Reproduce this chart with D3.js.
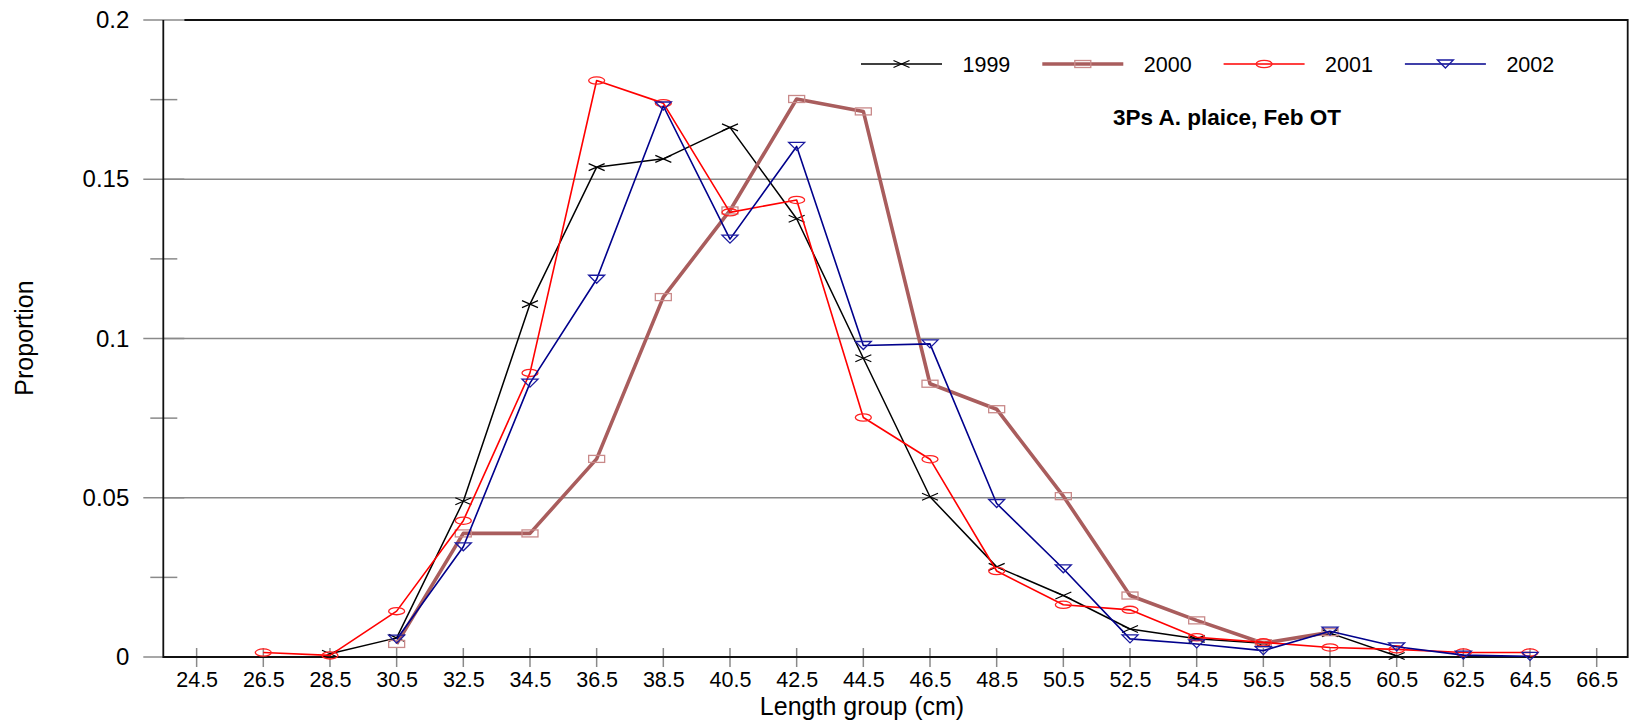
<!DOCTYPE html>
<html>
<head>
<meta charset="utf-8">
<script src="https://cdn.jsdelivr.net/npm/d3@7"></script>
<style>
  html, body { margin: 0; padding: 0; background: #fff; }
  svg { display: block; font-family: Arial, "Liberation Sans", sans-serif; }
</style>
</head>
<body>
<svg id="chart" width="1631" height="723"></svg>
<script>
// ---- data ----
const lengthGroups = [24.5, 26.5, 28.5, 30.5, 32.5, 34.5, 36.5, 38.5, 40.5, 42.5, 44.5,
                      46.5, 48.5, 50.5, 52.5, 54.5, 56.5, 58.5, 60.5, 62.5, 64.5, 66.5];
const yTicks = [0, 0.05, 0.1, 0.15, 0.2];
const yTickLabels = ["0", "0.05", "0.1", "0.15", "0.2"];
const yMinorTicks = [0.025, 0.075, 0.125, 0.175];

const len1999 = [28.5, 30.5, 32.5, 34.5, 36.5, 38.5, 40.5, 42.5, 44.5, 46.5, 48.5, 50.5, 52.5, 54.5, 56.5, 58.5, 60.5];
const val1999 = [0.001, 0.006, 0.0489, 0.1108, 0.1538, 0.1564, 0.1663, 0.1376, 0.0938, 0.0503, 0.0283, 0.0193, 0.0088, 0.0057, 0.0043, 0.0075, 0.0003];

const len2000 = [30.5, 32.5, 34.5, 36.5, 38.5, 40.5, 42.5, 44.5, 46.5, 48.5, 50.5, 52.5, 54.5, 56.5, 58.5];
const val2000 = [0.0041, 0.0388, 0.0388, 0.0622, 0.1130, 0.1402, 0.1752, 0.1713, 0.0858, 0.0778, 0.0505, 0.0193, 0.0115, 0.0043, 0.0078];

const len2001 = [26.5, 28.5, 30.5, 32.5, 34.5, 36.5, 38.5, 40.5, 42.5, 44.5, 46.5, 48.5, 50.5, 52.5, 54.5, 56.5, 58.5, 60.5, 62.5, 64.5];
const val2001 = [0.0014, 0.0005, 0.0144, 0.0428, 0.0892, 0.181, 0.1739, 0.1396, 0.1435, 0.0752, 0.0621, 0.027, 0.0164, 0.0148, 0.0062, 0.0046, 0.003, 0.0024, 0.0014, 0.0014];

const len2002 = [30.5, 32.5, 34.5, 36.5, 38.5, 40.5, 42.5, 44.5, 46.5, 48.5, 50.5, 52.5, 54.5, 56.5, 58.5, 60.5, 62.5, 64.5];
const val2002 = [0.0056, 0.0346, 0.086, 0.1186, 0.173, 0.1312, 0.1603, 0.0978, 0.0983, 0.0482, 0.0277, 0.0057, 0.0041, 0.002, 0.0081, 0.0032, 0.0006, 0.0002];

const seriesNames = ["1999", "2000", "2001", "2002"];
const chartTitle = "3Ps A. plaice, Feb OT";
const xTitle = "Length group (cm)";
const yTitle = "Proportion";

// ---- layout ----
const plotLeft = 163.3, plotRight = 1627.7, plotTop = 20, plotBottom = 657;
const svg = d3.select("#chart");

const x = d3.scaleLinear().domain([23.5, 67.43]).range([plotLeft, plotRight]);
const y = d3.scaleLinear().domain([0, 0.2]).range([plotBottom, plotTop]);

const gridColor = "#8a8a8a";

// gridlines
svg.append("g").selectAll("line").data(yTicks.filter(d => d > 0 && d < 0.2)).join("line")
  .attr("x1", plotLeft).attr("x2", plotRight)
  .attr("y1", d => y(d)).attr("y2", d => y(d))
  .attr("stroke", gridColor).attr("stroke-width", 1.5);

// y axis with major ticks crossing
const yAxis = d3.axisLeft(y).tickValues(yTicks).tickFormat((d, i) => yTickLabels[i]).tickSize(0).tickPadding(34);
const gy = svg.append("g").attr("transform", `translate(${plotLeft},0)`).call(yAxis);
gy.select(".domain").remove();
gy.selectAll("text").attr("font-size", 24).attr("fill", "#000").attr("font-family", "Arial, 'Liberation Sans', sans-serif");
svg.append("g").selectAll("line").data(yTicks).join("line")
  .attr("x1", plotLeft - 20).attr("x2", plotLeft + 21)
  .attr("y1", d => y(d)).attr("y2", d => y(d))
  .attr("stroke", gridColor).attr("stroke-width", 1.5);
svg.append("g").selectAll("line").data(yMinorTicks).join("line")
  .attr("x1", plotLeft - 13).attr("x2", plotLeft + 14)
  .attr("y1", d => y(d)).attr("y2", d => y(d))
  .attr("stroke", gridColor).attr("stroke-width", 1.5);

// x axis
const xAxis = d3.axisBottom(x).tickValues(lengthGroups).tickFormat(d3.format(".1f")).tickSize(0).tickPadding(15);
const gx = svg.append("g").attr("transform", `translate(0,${plotBottom})`).call(xAxis);
gx.select(".domain").remove();
gx.selectAll("text").attr("font-size", 21.5).attr("fill", "#000").attr("font-family", "Arial, 'Liberation Sans', sans-serif");
svg.append("g").selectAll("line").data(lengthGroups).join("line")
  .attr("x1", d => x(d)).attr("x2", d => x(d))
  .attr("y1", plotBottom - 9).attr("y2", plotBottom + 10)
  .attr("stroke", gridColor).attr("stroke-width", 1.5);

// frame
svg.append("path")
  .attr("d", `M${plotLeft + 21},${plotTop} H${plotRight} V${plotBottom} H${plotLeft} V${plotTop}`)
  .attr("fill", "none").attr("stroke", "#111").attr("stroke-width", 1.8);

// series
const series = [
  { name: seriesNames[0], lens: len1999, vals: val1999, line: "#000000", mark: "#000000", lw: 1.5, shape: "x" },
  { name: seriesNames[1], lens: len2000, vals: val2000, line: "#a95d5d", mark: "#c98a8a", lw: 3.6, shape: "rect" },
  { name: seriesNames[2], lens: len2001, vals: val2001, line: "#ff0000", mark: "#ff2020", lw: 1.6, shape: "ellipse" },
  { name: seriesNames[3], lens: len2002, vals: val2002, line: "#00008c", mark: "#1a1aa0", lw: 1.6, shape: "tri" }
];

function drawMarker(g, shape, color) {
  if (shape === "x") {
    g.append("path").attr("d", "M-8,-3.5L8,3.5M-8,3.5L8,-3.5")
      .attr("stroke", color).attr("stroke-width", 1.2).attr("fill", "none");
  } else if (shape === "rect") {
    g.append("rect").attr("x", -8).attr("y", -3.5).attr("width", 16).attr("height", 7)
      .attr("stroke", color).attr("stroke-width", 1.3).attr("fill", "none");
  } else if (shape === "ellipse") {
    g.append("ellipse").attr("rx", 8).attr("ry", 3.6)
      .attr("stroke", color).attr("stroke-width", 1.3).attr("fill", "none");
  } else if (shape === "tri") {
    g.append("path").attr("d", "M-8,-4L8,-4L0,4Z")
      .attr("stroke", color).attr("stroke-width", 1.3).attr("fill", "none");
  }
}

const line = d3.line().x(d => x(d[0])).y(d => y(d[1]));
series.forEach(s => {
  const pts = s.lens.map((l, i) => [l, s.vals[i]]);
  const g = svg.append("g");
  g.append("path").datum(pts).attr("d", line)
    .attr("fill", "none").attr("stroke", s.line).attr("stroke-width", s.lw).attr("stroke-linejoin", "round");
  pts.forEach(p => {
    const m = g.append("g").attr("transform", `translate(${x(p[0])},${y(p[1])})`);
    drawMarker(m, s.shape, s.mark);
  });
});

// legend
const legX0 = 861, legY = 64, legStep = 181.3, legLen = 81;
series.forEach((s, i) => {
  const gx0 = legX0 + i * legStep;
  const g = svg.append("g");
  g.append("line").attr("x1", gx0).attr("x2", gx0 + legLen).attr("y1", legY).attr("y2", legY)
    .attr("stroke", s.line).attr("stroke-width", s.lw);
  const m = g.append("g").attr("transform", `translate(${gx0 + legLen / 2},${legY})`);
  drawMarker(m, s.shape, s.mark);
  g.append("text").attr("x", gx0 + legLen + 20.5).attr("y", legY + 8.2)
    .attr("font-size", 21.5).attr("fill", "#000").text(s.name);
});

// chart subtitle
svg.append("text").attr("x", 1227).attr("y", 125).attr("text-anchor", "middle")
  .attr("font-size", 22.5).attr("font-weight", "bold").attr("fill", "#000").text(chartTitle);

// axis titles
svg.append("text").attr("x", 862).attr("y", 715).attr("text-anchor", "middle")
  .attr("font-size", 25).attr("fill", "#000").text(xTitle);
svg.append("text").attr("transform", "translate(33,338) rotate(-90)").attr("text-anchor", "middle")
  .attr("font-size", 25).attr("fill", "#000").text(yTitle);
</script>
</body>
</html>
